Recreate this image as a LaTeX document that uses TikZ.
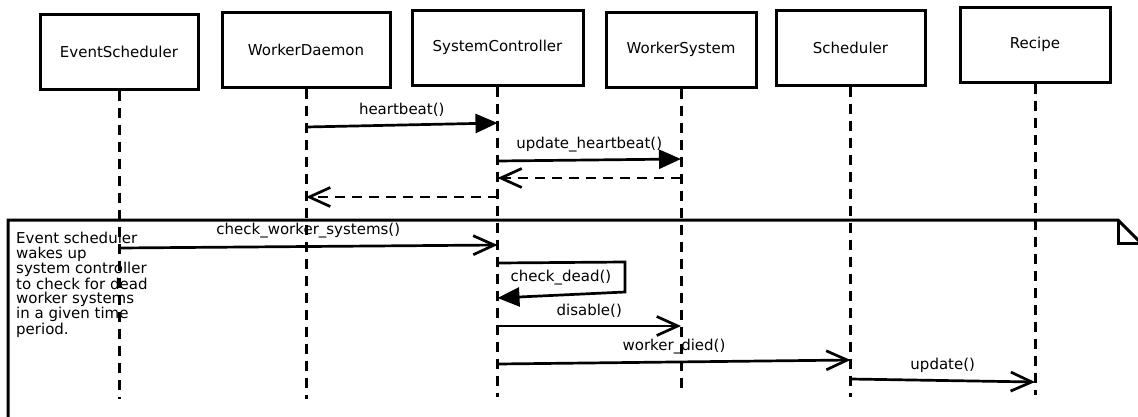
\documentclass[tikz,border=0pt]{standalone}
\usepackage{fontspec}
\setmainfont{DejaVu Sans}
\usetikzlibrary{arrows.meta}
\begin{document}
\begin{tikzpicture}[
x=1pt,y=-1pt,
every node/.style={font=\fontsize{15}{14.4}\selectfont},
lifebox/.style={rectangle,draw,line width=3pt,minimum width=150pt,minimum height=75pt},
lifeline/.style={line width=3pt,dash pattern=on 10pt off 7pt},
call/.style={line width=2.7pt,-{Triangle[length=22pt,width=19pt]}},
msg/.style={line width=2.7pt,-{Straight Barb[length=21pt,width=19pt]}},
reply/.style={msg,dash pattern=on 10pt off 7pt},
mlabel/.style={above=5pt,inner sep=2pt},
memo/.style={line width=3pt},
]
\useasboundingbox (0,0) rectangle (1138,416);
\clip (0,0) rectangle (1138,416);
\draw[memo] (8,430) -- (8,220) -- (1118,220) -- (1141,243) -- (1141,430);
\draw[memo] (1118,220) -- (1118,243) -- (1141,243);
\node[anchor=north west,align=left,inner sep=0pt] (memo-text) at (16,232)
  {Event scheduler\\wakes up\\system controller\\to check for dead\\worker systems\\in a given time\\period.};
\node[lifebox,minimum width=158pt] (es) at (119,51.5) {EventScheduler};
\node[lifebox,minimum width=168pt] (wd) at (306,49.5) {WorkerDaemon};
\node[lifebox,minimum width=171pt] (sc) at (497.5,47.5) {SystemController};
\node[lifebox] (ws) at (681,49.5) {WorkerSystem};
\node[lifebox,minimum width=149pt] (sd) at (850.5,47.5) {Scheduler};
\node[lifebox] (rc) at (1035,44.5) {Recipe};
\foreach \obj/\ybot in {es/399,wd/399,sc/397,ws/393,sd/397,rc/395}
  \draw[lifeline] (\obj) -- (\obj |- 0,\ybot);
\draw[call] (wd |- 0,127) -- node[mlabel] {heartbeat()} (sc |- 0,123);
\draw[call] (sc |- 0,161) -- node[mlabel] {update\_heartbeat()} (ws |- 0,159);
\draw[reply] (ws |- 0,178) -- (sc |- 0,178);
\draw[reply] (sc |- 0,197) -- (wd |- 0,197);
\draw[msg] (es |- 0,248) -- node[mlabel] {check\_worker\_systems()} (sc |- 0,245);
\draw[call] (sc |- 0,263) -- (625,262) -- (625,292) -- (sc |- 0,298);
\node (dead) at (561,278) {check\_dead()};
\draw[msg] (sc |- 0,326) -- node[mlabel] {disable()} (ws |- 0,326);
\draw[msg] (sc |- 0,364) -- node[mlabel] {worker\_died()} (sd |- 0,360);
\draw[msg] (sd |- 0,379) -- node[mlabel] {update()} (rc |- 0,382);
\end{tikzpicture}
\end{document}
